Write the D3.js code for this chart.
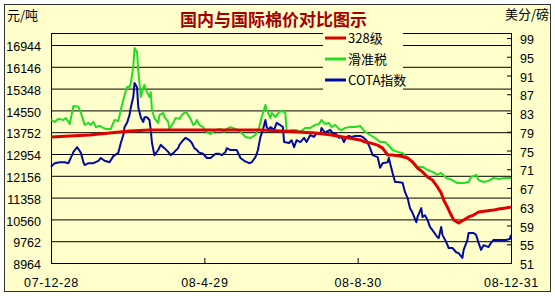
<!DOCTYPE html>
<html>
<head>
<meta charset="utf-8">
<script src="https://cdn.jsdelivr.net/npm/d3@7"></script>
<style>
  body { margin: 0; background: #fff; }
  svg { display: block; }
</style>
</head>
<body>
<div id="chart"></div>
<script>
// values
const leftTicks = [8964, 9762, 10560, 11358, 12156, 12954, 13752, 14550, 15348, 16146, 16944];
const rightTicks = [51, 55, 59, 63, 67, 71, 75, 79, 83, 87, 91, 95, 99];
const dateTicks = ["2007-12-28", "2008-04-29", "2008-08-30", "2008-12-31"];
const seriesNames = ["328级", "滑准税", "COTA指数"];

// 328级 (元/吨)
const grade328 = [
  ["2007-12-28",13580],["2008-01-12",13610],["2008-01-28",13650],["2008-02-13",13720],["2008-02-29",13800],
  ["2008-03-16",13830],["2008-04-01",13830],["2008-04-26",13830],["2008-05-20",13830],["2008-06-13",13830],
  ["2008-06-30",13800],["2008-07-14",13760],["2008-07-27",13720],["2008-08-09",13650],["2008-08-23",13540],
  ["2008-09-01",13470],["2008-09-05",13390],["2008-09-09",13360],["2008-09-15",13280],["2008-09-19",13170],
  ["2008-09-23",12920],["2008-09-27",12920],["2008-10-03",12880],["2008-10-09",12810],["2008-10-13",12660],
  ["2008-10-17",12440],["2008-10-21",12300],["2008-10-25",12110],["2008-10-29",12000],["2008-11-02",11750],
  ["2008-11-05",11530],["2008-11-07",11270],["2008-11-10",11010],["2008-11-13",10720],["2008-11-15",10540],
  ["2008-11-19",10430],["2008-11-23",10540],["2008-11-27",10650],["2008-12-01",10720],["2008-12-05",10830],
  ["2008-12-11",10870],["2008-12-17",10900],["2008-12-21",10940],["2008-12-27",10980],["2008-12-31",11010]
];

// 滑准税 (元/吨)
const slidingTax = [
  ["2007-12-28",14200],["2007-12-31",14130],["2008-01-03",14240],["2008-01-07",14200],["2008-01-09",14270],
  ["2008-01-12",14050],["2008-01-15",14710],["2008-01-19",14680],["2008-01-21",14460],["2008-01-24",14020],
  ["2008-01-27",14090],["2008-01-29",14020],["2008-01-31",14130],["2008-02-02",13940],["2008-02-05",13980],
  ["2008-02-08",13910],["2008-02-10",13870],["2008-02-14",13870],["2008-02-17",14200],["2008-02-20",14160],
  ["2008-02-22",14570],["2008-02-25",15110],["2008-02-27",15410],["2008-02-29",15410],["2008-03-01",15550],
  ["2008-03-03",16140],["2008-03-04",16830],["2008-03-06",16690],["2008-03-07",16030],["2008-03-09",15040],
  ["2008-03-11",15370],["2008-03-12",15480],["2008-03-14",15220],["2008-03-16",15040],["2008-03-17",15220],
  ["2008-03-18",14570],["2008-03-20",14270],["2008-03-23",14090],["2008-03-24",14380],["2008-03-27",14460],
  ["2008-03-28",14310],["2008-03-31",14130],["2008-04-01",13870],["2008-04-04",14090],["2008-04-06",14270],
  ["2008-04-09",14240],["2008-04-11",14380],["2008-04-13",14460],["2008-04-15",14460],["2008-04-18",14240],
  ["2008-04-20",14020],["2008-04-22",14090],["2008-04-23",14200],["2008-04-25",14020],["2008-04-28",13940],
  ["2008-04-30",13800],["2008-05-02",13720],["2008-05-04",13690],["2008-05-08",13830],["2008-05-12",13870],
  ["2008-05-15",13760],["2008-05-17",13870],["2008-05-20",13940],["2008-05-24",13870],["2008-05-28",13760],
  ["2008-06-01",13580],["2008-06-05",13540],["2008-06-09",13650],["2008-06-12",13940],["2008-06-14",14310],
  ["2008-06-17",14750],["2008-06-18",14570],["2008-06-21",14270],["2008-06-22",14460],["2008-06-25",14310],
  ["2008-06-28",14490],["2008-06-30",14530],["2008-07-03",14460],["2008-07-04",13800],["2008-07-08",13830],
  ["2008-07-12",13830],["2008-07-15",13760],["2008-07-19",13910],["2008-07-23",13910],["2008-07-27",14020],
  ["2008-07-30",14050],["2008-08-01",14200],["2008-08-04",14050],["2008-08-07",14090],["2008-08-09",13940],
  ["2008-08-12",14020],["2008-08-15",13870],["2008-08-17",13830],["2008-08-20",13910],["2008-08-24",13940],
  ["2008-08-28",13940],["2008-09-01",13980],["2008-09-05",13760],["2008-09-09",13650],["2008-09-13",13540],
  ["2008-09-17",13390],["2008-09-21",13390],["2008-09-25",13210],["2008-09-27",13100],["2008-10-01",13030],
  ["2008-10-05",12990],["2008-10-09",12810],["2008-10-13",12660],["2008-10-17",12480],["2008-10-21",12480],
  ["2008-10-25",12370],["2008-10-29",12300],["2008-11-02",12190],["2008-11-05",12260],["2008-11-09",12080],
  ["2008-11-14",12000],["2008-11-18",11890],["2008-11-23",11890],["2008-11-27",11930],["2008-11-29",12110],
  ["2008-12-03",12190],["2008-12-05",12000],["2008-12-09",11930],["2008-12-13",11970],["2008-12-17",12080],
  ["2008-12-21",12040],["2008-12-27",12080],["2008-12-31",12080]
];

// COTA指数 (美分/磅)
const cotaIndex = [
  ["2007-12-28",71.5],["2007-12-31",72.3],["2008-01-04",72.5],["2008-01-08",72.5],["2008-01-11",72.3],
  ["2008-01-15",74.7],["2008-01-18",75.7],["2008-01-21",74.5],["2008-01-23",72.5],["2008-01-24",71.9],
  ["2008-01-27",72.3],["2008-01-31",72.3],["2008-02-04",72.8],["2008-02-06",73.4],["2008-02-09",72.8],
  ["2008-02-13",72.5],["2008-02-16",73.8],["2008-02-20",74.5],["2008-02-22",76.6],["2008-02-24",78.3],
  ["2008-02-25",80.0],["2008-02-27",80.9],["2008-02-29",82.6],["2008-03-01",84.1],["2008-03-03",86.4],
  ["2008-03-04",89.4],["2008-03-06",88.5],["2008-03-07",84.3],["2008-03-09",82.1],["2008-03-11",81.1],
  ["2008-03-12",82.1],["2008-03-14",82.1],["2008-03-16",81.5],["2008-03-17",79.4],["2008-03-18",76.6],
  ["2008-03-20",74.0],["2008-03-23",75.1],["2008-03-25",76.2],["2008-03-28",75.5],["2008-03-31",74.7],
  ["2008-04-02",74.0],["2008-04-05",74.7],["2008-04-08",75.5],["2008-04-09",76.2],["2008-04-12",77.2],
  ["2008-04-14",77.7],["2008-04-17",77.2],["2008-04-19",76.6],["2008-04-21",75.5],["2008-04-23",75.1],
  ["2008-04-25",74.5],["2008-04-28",74.3],["2008-05-01",73.4],["2008-05-04",73.4],["2008-05-08",74.3],
  ["2008-05-11",74.3],["2008-05-13",74.0],["2008-05-16",74.7],["2008-05-17",75.5],["2008-05-20",75.1],
  ["2008-05-22",75.1],["2008-05-25",75.1],["2008-05-28",73.4],["2008-05-31",72.8],["2008-06-04",72.3],
  ["2008-06-06",72.5],["2008-06-09",73.6],["2008-06-11",75.1],["2008-06-13",77.9],["2008-06-15",79.4],
  ["2008-06-17",81.5],["2008-06-18",80.0],["2008-06-20",79.4],["2008-06-21",80.0],["2008-06-24",79.4],
  ["2008-06-26",80.9],["2008-06-29",80.4],["2008-07-01",80.0],["2008-07-02",76.8],["2008-07-06",76.6],
  ["2008-07-08",77.2],["2008-07-10",75.7],["2008-07-12",77.2],["2008-07-15",76.8],["2008-07-18",77.7],
  ["2008-07-20",76.8],["2008-07-23",78.3],["2008-07-26",77.9],["2008-07-28",78.7],["2008-07-31",78.5],
  ["2008-08-01",79.8],["2008-08-04",78.7],["2008-08-05",79.0],["2008-08-08",79.4],["2008-08-10",78.7],
  ["2008-08-12",78.7],["2008-08-15",77.7],["2008-08-17",77.9],["2008-08-19",76.8],["2008-08-21",77.9],
  ["2008-08-23",78.1],["2008-08-25",77.9],["2008-08-28",78.1],["2008-09-01",78.1],["2008-09-03",77.9],
  ["2008-09-06",77.2],["2008-09-09",75.5],["2008-09-11",74.0],["2008-09-15",73.6],["2008-09-17",71.3],
  ["2008-09-19",72.3],["2008-09-23",72.5],["2008-09-24",73.4],["2008-09-25",72.3],["2008-09-27",70.2],
  ["2008-09-29",68.3],["2008-10-01",68.3],["2008-10-05",68.1],["2008-10-07",66.1],["2008-10-09",64.9],
  ["2008-10-11",62.7],["2008-10-13",61.7],["2008-10-16",59.7],["2008-10-17",60.8],["2008-10-20",62.7],
  ["2008-10-21",60.8],["2008-10-23",61.2],["2008-10-25",60.2],["2008-10-27",58.7],["2008-10-29",58.0],
  ["2008-11-02",56.5],["2008-11-03",56.3],["2008-11-05",58.7],["2008-11-06",57.0],["2008-11-09",55.5],
  ["2008-11-11",54.2],["2008-11-14",54.2],["2008-11-17",53.3],["2008-11-19",53.1],["2008-11-22",52.1],
  ["2008-11-23",53.8],["2008-11-26",55.9],["2008-11-27",57.4],["2008-12-01",57.4],["2008-12-03",57.0],
  ["2008-12-05",55.3],["2008-12-07",53.8],["2008-12-09",54.8],["2008-12-13",54.4],["2008-12-15",55.3],
  ["2008-12-17",55.9],["2008-12-21",55.9],["2008-12-27",55.9],["2008-12-30",56.1],["2008-12-31",57.0]
];

const colors = ["#e00000", "#22dd22", "#000a9c"];
const bg = "#ffffcc";
const numFont = "'Liberation Sans', Arial, sans-serif";
const cjkFont = "'Noto Sans CJK SC', sans-serif";

const width = 555, height = 296;
const plot = { left: 51, right: 511, top: 33, bottom: 263 };

const svg = d3.select("#chart")
  .append("svg")
    .attr("width", width)
    .attr("height", height);

// outer frame
svg.append("rect")
  .attr("x", 4.5).attr("y", 4.5)
  .attr("width", 546).attr("height", 287)
  .attr("fill", bg)
  .attr("stroke", "#333");

// plot background
svg.append("rect")
  .attr("x", plot.left).attr("y", plot.top)
  .attr("width", plot.right - plot.left).attr("height", plot.bottom - plot.top)
  .attr("fill", bg);

// scales
const parse = d3.timeParse("%Y-%m-%d");
const x = d3.scaleTime()
  .domain([parse(dateTicks[0]), parse(dateTicks[dateTicks.length - 1])])
  .range([plot.left, plot.right]);

const yLeft = d3.scaleLinear()
  .domain([leftTicks[0], leftTicks[leftTicks.length - 1]])
  .range([plot.bottom, 45]);

const yRight = d3.scaleLinear()
  .domain([rightTicks[0], rightTicks[rightTicks.length - 1]])
  .range([plot.bottom, 38]);

// left axis with gridlines
const gLeft = svg.append("g")
  .attr("transform", `translate(${plot.left},0)`)
  .call(d3.axisLeft(yLeft)
    .tickValues(leftTicks)
    .tickSize(-(plot.right - plot.left))
    .tickPadding(10)
    .tickFormat(d3.format("d")))
  .attr("font-family", numFont)
  .attr("font-size", 12.5);
gLeft.select(".domain").remove();
gLeft.selectAll("line").attr("stroke", "#000");
gLeft.selectAll("text").attr("fill", "#000").attr("dy", "0.45em");

// right axis (inward ticks)
const gRight = svg.append("g")
  .attr("transform", `translate(${plot.right},0)`)
  .call(d3.axisRight(yRight)
    .tickValues(rightTicks)
    .tickSize(-4)
    .tickPadding(9))
  .attr("font-family", numFont)
  .attr("font-size", 12.5);
gRight.select(".domain").remove();
gRight.selectAll("line").attr("stroke", "#000");
gRight.selectAll("text").attr("fill", "#000").attr("dy", "0.45em");

// bottom axis
const gBottom = svg.append("g")
  .attr("transform", `translate(0,${plot.bottom})`)
  .call(d3.axisBottom(x)
    .tickValues(dateTicks.map(parse))
    .tickSize(-5)
    .tickPadding(15)
    .tickFormat(d3.timeFormat("%y-%-m-%d")))
  .attr("font-family", numFont)
  .attr("font-size", 12.5);
gBottom.select(".domain").remove();
gBottom.selectAll("line").attr("stroke", "#000");
gBottom.selectAll("text").attr("fill", "#000").attr("letter-spacing", "0.6px");

// plot border
svg.append("rect")
  .attr("x", plot.left + 0.5).attr("y", plot.top + 0.5)
  .attr("width", plot.right - plot.left).attr("height", plot.bottom - plot.top)
  .attr("fill", "none")
  .attr("stroke", "#000");

// legend box covers the gridlines
svg.append("rect")
  .attr("x", 323).attr("y", 28)
  .attr("width", 80).attr("height", 63)
  .attr("fill", bg);

// series lines
const series = [
  { data: grade328, y: yLeft, width: 3 },
  { data: slidingTax, y: yLeft, width: 2 },
  { data: cotaIndex, y: yRight, width: 2 }
];

series.forEach((s, i) => {
  const line = d3.line()
    .x(d => x(parse(d[0])))
    .y(d => s.y(d[1]));
  svg.append("path")
    .datum(s.data)
    .attr("d", line)
    .attr("fill", "none")
    .attr("stroke", colors[i])
    .attr("stroke-width", s.width)
    .attr("stroke-linejoin", "round");
});
// keep red on top of green like the original
svg.selectAll("path").filter((d, i) => i === 0).raise();

// legend
const legend = svg.append("g").attr("font-family", cjkFont).attr("font-size", 13);
seriesNames.forEach((name, i) => {
  const ly = 38 + i * 21;
  legend.append("line")
    .attr("x1", 325).attr("x2", 346)
    .attr("y1", ly).attr("y2", ly)
    .attr("stroke", colors[i])
    .attr("stroke-width", 3);
  legend.append("text")
    .attr("x", 348).attr("y", ly)
    .attr("dy", "0.36em")
    .text(name);
});

// title and units
svg.append("text")
  .attr("x", 180).attr("y", 26)
  .attr("font-family", cjkFont)
  .attr("font-size", 17)
  .attr("font-weight", "bold")
  .attr("fill", "#a50000")
  .text("国内与国际棉价对比图示");

svg.append("text")
  .attr("x", 7).attr("y", 20)
  .attr("font-family", cjkFont)
  .attr("font-size", 13)
  .text("元/吨");

svg.append("text")
  .attr("x", 549).attr("y", 19)
  .attr("text-anchor", "end")
  .attr("font-family", cjkFont)
  .attr("font-size", 13)
  .text("美分/磅");
</script>
</body>
</html>
